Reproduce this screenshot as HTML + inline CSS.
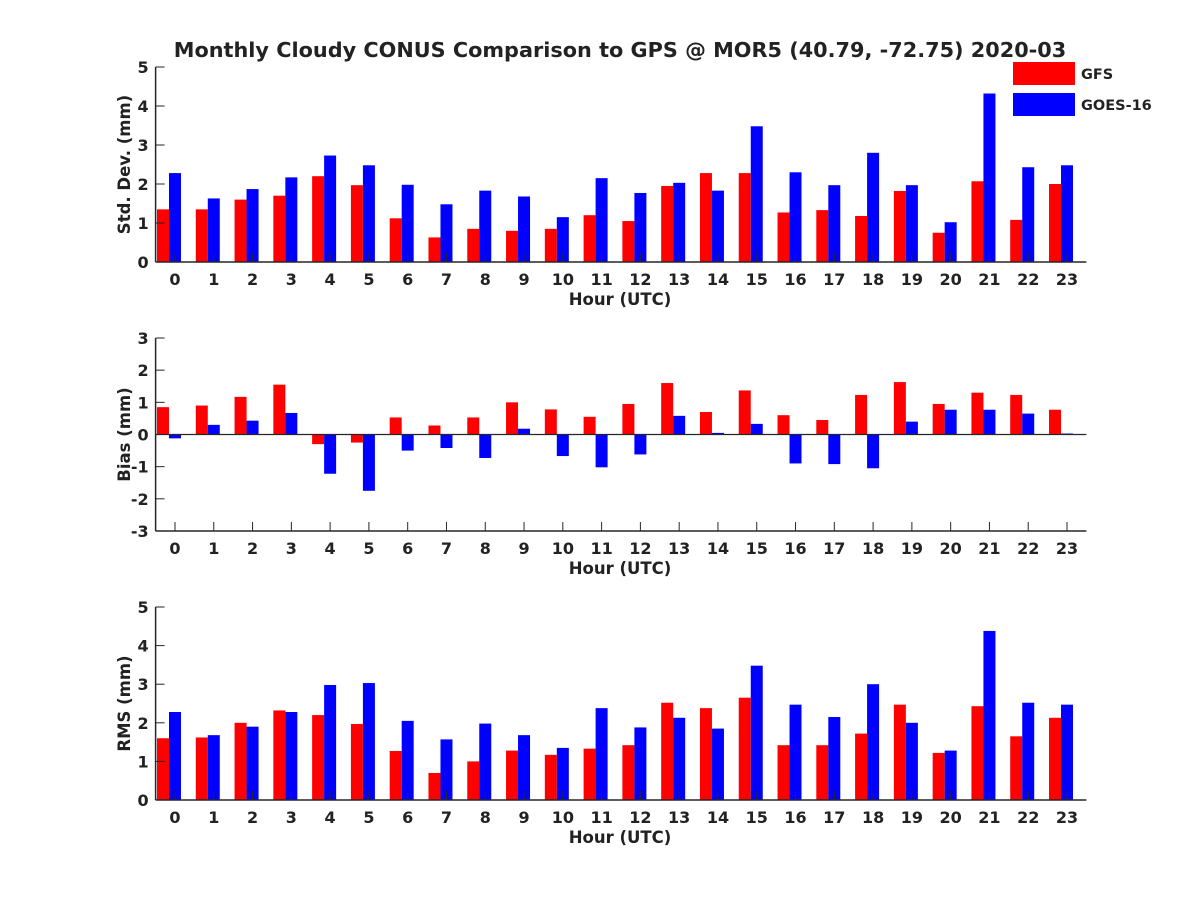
<!DOCTYPE html>
<html><head><meta charset="utf-8"><style>
body{margin:0;background:#fff}
svg text{font-family:"DejaVu Sans","Liberation Sans",sans-serif;font-weight:bold;fill:#222}
</style></head><body>
<svg id="chart" width="1200" height="900" xmlns="http://www.w3.org/2000/svg">
<rect width="1200" height="900" fill="#fff"/>
<text x="620" y="57" font-size="20.8" text-anchor="middle">Monthly Cloudy CONUS Comparison to GPS @ MOR5 (40.79, -72.75) 2020-03</text>
<g>
<rect x="1013" y="62" width="62" height="23" fill="#ff0000"/>
<text x="1081" y="79" font-size="14.5">GFS</text>
<rect x="1013" y="93" width="62" height="23" fill="#0000ff"/>
<text x="1081" y="110" font-size="14.5">GOES-16</text>
</g>
</svg>
<script>
const hours=[0,1,2,3,4,5,6,7,8,9,10,11,12,13,14,15,16,17,18,19,20,21,22,23];
const stdGFS=[1.35,1.35,1.6,1.7,2.2,1.97,1.12,0.63,0.85,0.8,0.85,1.2,1.05,1.95,2.28,2.28,1.27,1.33,1.18,1.82,0.75,2.07,1.08,2.0];
const stdGOES=[2.28,1.63,1.87,2.17,2.73,2.48,1.98,1.48,1.83,1.68,1.15,2.15,1.77,2.03,1.83,3.48,2.3,1.97,2.8,1.97,1.02,4.32,2.43,2.48];
const biasGFS=[0.85,0.9,1.17,1.55,-0.3,-0.25,0.53,0.28,0.53,1.0,0.78,0.55,0.95,1.6,0.7,1.37,0.6,0.45,1.23,1.63,0.95,1.3,1.23,0.77];
const biasGOES=[-0.12,0.3,0.43,0.67,-1.22,-1.75,-0.5,-0.42,-0.73,0.18,-0.67,-1.02,-0.62,0.58,0.05,0.33,-0.9,-0.92,-1.05,0.4,0.77,0.77,0.65,0.03];
const rmsGFS=[1.6,1.62,2.0,2.32,2.2,1.97,1.27,0.7,1.0,1.28,1.17,1.33,1.42,2.52,2.38,2.65,1.42,1.42,1.72,2.47,1.22,2.43,1.65,2.13];
const rmsGOES=[2.28,1.68,1.9,2.28,2.98,3.03,2.05,1.57,1.98,1.68,1.35,2.38,1.88,2.13,1.85,3.48,2.47,2.15,3.0,2.0,1.28,4.38,2.52,2.47];
const stdTicks=[0,1,2,3,4,5];
const biasTicks=[-3,-2,-1,0,1,2,3];
const rmsTicks=[0,1,2,3,4,5];

const svg=document.getElementById('chart');
const NS='http://www.w3.org/2000/svg';
function mk(tag,attrs){const e=document.createElementNS(NS,tag);for(const k in attrs)e.setAttribute(k,attrs[k]);svg.appendChild(e);return e;}
const X0=155.6,X1=1086.4;
function xs(h){return X0+(h+0.5)/24*(X1-X0);}
function panel(name,top,bot,ymin,ymax,ticks,ylabel,a,b){
  const ys=v=>bot-(v-ymin)/(ymax-ymin)*(bot-top);
  const bw=12;
  hours.forEach((h,i)=>{
    [[a[i],'#ff0000',-18,'gfs'],[b[i],'#0000ff',-6,'goes']].forEach(([v,c,off,s])=>{
      const y0=ys(0),y1=ys(v);
      const r=mk('rect',{x:xs(h)+off,y:Math.min(y0,y1),width:bw,height:Math.abs(y1-y0),fill:c});
      
      
    });
  });
  let l=mk('line',{x1:X0,y1:bot,x2:X1,y2:bot,stroke:'#262626','stroke-width':1.5});
  
  
  if(ymin<0){let z=mk('line',{x1:X0,y1:ys(0),x2:X1,y2:ys(0),stroke:'#262626','stroke-width':1.2});
    
    }
  l=mk('line',{x1:X0,y1:top,x2:X0,y2:bot,stroke:'#262626','stroke-width':1.5});
  
  
  hours.forEach(h=>{
    mk('line',{x1:xs(h),y1:bot,x2:xs(h),y2:bot-9,stroke:'#262626','stroke-width':1});
    const t=mk('text',{x:xs(h),y:bot+23,'font-size':16,'text-anchor':'middle'});t.textContent=h;
    
    
  });
  ticks.forEach(v=>{
    mk('line',{x1:X0,y1:ys(v),x2:X0+9,y2:ys(v),stroke:'#262626','stroke-width':1});
    const t=mk('text',{x:X0-7,y:ys(v)+6,'font-size':16,'text-anchor':'end'});t.textContent=v;
    
    
  });
  let t=mk('text',{x:620,y:bot+43,'font-size':16.5,'text-anchor':'middle'});t.textContent='Hour (UTC)';
  
  
  const cy=(top+bot)/2;
  t=mk('text',{x:130,y:cy,'font-size':16.5,'text-anchor':'middle',transform:'rotate(-90 130 '+cy+')'});t.textContent=ylabel;
  
  
}
panel('std',67,262,0,5,stdTicks,'Std. Dev. (mm)',stdGFS,stdGOES);
panel('bias',338,531,-3,3,biasTicks,'Bias (mm)',biasGFS,biasGOES);
panel('rms',607,800,0,5,rmsTicks,'RMS (mm)',rmsGFS,rmsGOES);
</script>
</body></html>
